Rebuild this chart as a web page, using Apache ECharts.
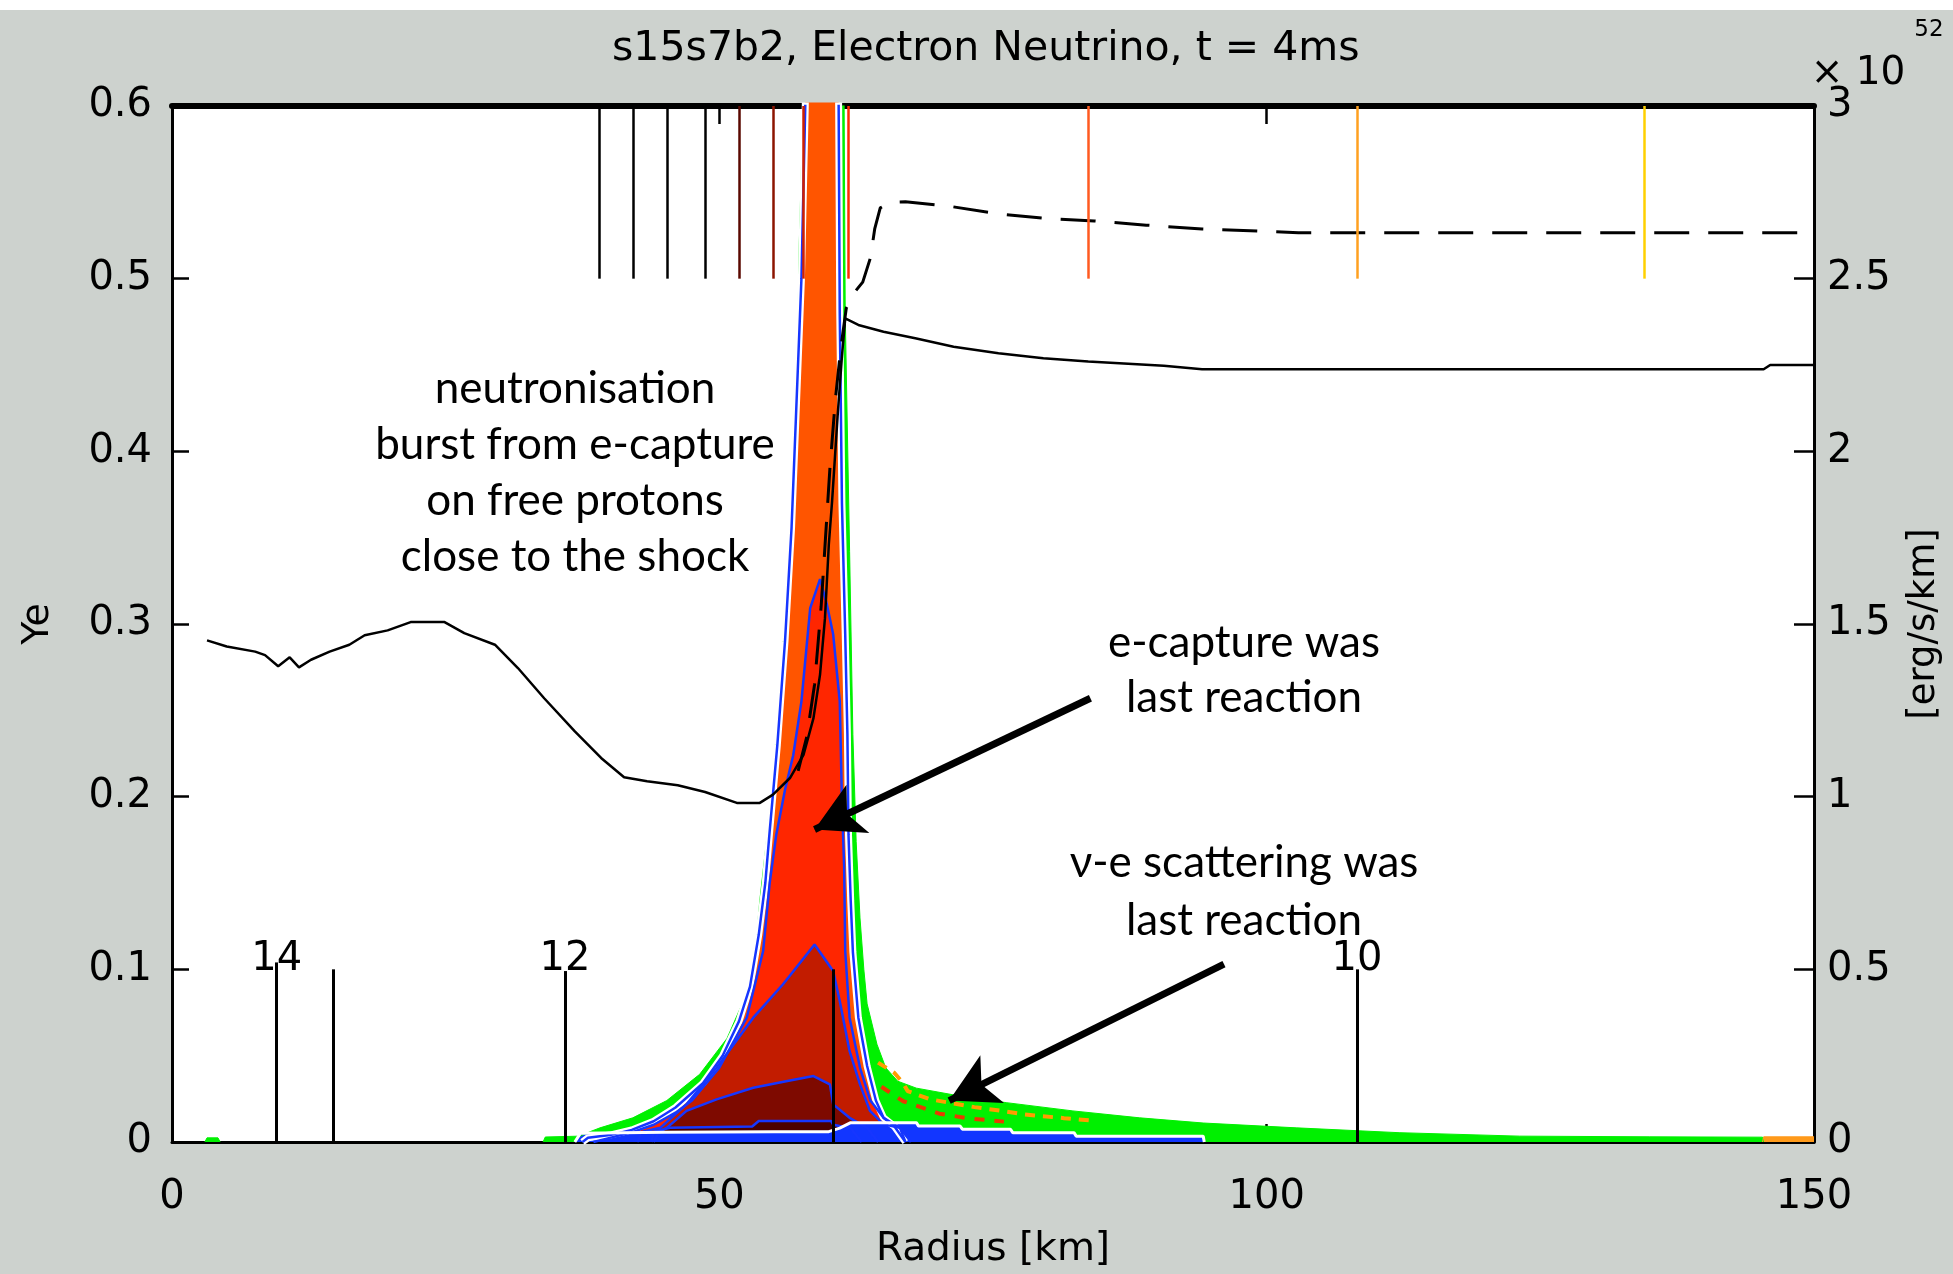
<!DOCTYPE html>
<html><head><meta charset="utf-8">
<script src="https://cdn.jsdelivr.net/npm/echarts@6/dist/echarts.min.js"></script>
<style>html,body{margin:0;padding:0;background:#CDD2CE;}#c{width:1953px;height:1274px;}</style>
</head><body><div id="c"></div>
<script>
// ---------------- DATA ----------------
// Ye (left axis), solid
const yeSolidKm  = [3.2,5.0,7.6,8.5,9.7,10.75,11.6,12.7,14.4,16.2,17.6,19.7,21.8,24.9,26.7,29.5,31.6,34.0,36.8,39.2,41.3,43.4,46.2,48.7,51.6,53.7,54.9,56.45,57.7,58.6,59.2,59.65,60.0,60.3,60.8,61.2,61.5,62.7,65.0,67.9,71.4,75.5,79.6,83.7,90.6,94.1,117,145.4,146.0,150];
const yeSolidVal = [0.2905,0.287,0.284,0.282,0.2755,0.2807,0.2749,0.2793,0.284,0.288,0.2935,0.2963,0.3011,0.3011,0.2947,0.288,0.2745,0.257,0.2378,0.2224,0.2112,0.2089,0.2066,0.2027,0.1964,0.1964,0.2012,0.2108,0.2244,0.2455,0.2707,0.3034,0.3459,0.371,0.42,0.455,0.477,0.4732,0.4693,0.4655,0.4606,0.4568,0.4539,0.452,0.4495,0.4475,0.4475,0.4475,0.450,0.450];
// second (dashed) curve, left axis
const yeDashKm  = [57.2,58.0,58.7,59.3,59.7,60.1,60.6,61.1,61.6,62.4,63.1,63.8,64.2,64.7,65.6,67.0,70.85,75.5,79.6,84.25,89,94.1,102.9,150];
const yeDashVal = [0.215,0.235,0.265,0.31,0.35,0.39,0.43,0.46,0.483,0.4925,0.498,0.512,0.529,0.541,0.5442,0.5445,0.5421,0.5375,0.535,0.5334,0.531,0.5288,0.5266,0.5266];

// luminosity layers (right axis, 1e52 erg/s/km)
const greenKm  = [3.0,3.2,4.2,4.4,4.5,33.9,34.1,37.3,38.2,39.1,42.1,45.2,48.2,50.7,52.5,53.3,53.7,54.3,55.2,55.85,56.75,57.1,57.3,57.75,58.2,59.2,60.6,61.4,61.5,61.9,62.2,62.5,62.85,63.2,63.5,64.4,65.2,66.3,68.0,72.0,76.2,82.3,88.4,94.2,102.7,112.1,123.1,135,145.3,145.4];
const greenVal = [0,0.012,0.012,0,null,0,0.0145,0.017,0.03,0.041,0.07,0.12,0.196,0.30,0.43,0.56,0.70,0.87,1.18,1.47,1.78,2.2,2.6,3.1,4.0,5.0,4.0,3.0,2.4,1.71,1.18,0.87,0.649,0.5,0.40,0.283,0.215,0.176,0.156,0.133,0.114,0.09,0.07,0.055,0.041,0.027,0.017,0.015,0.014,0];
const endOrangeKm  = [145.3,145.4,150];
const endOrangeVal = [0,0.015,0.015];
const orangeKm  = [37.5,38.0,40,42,44,46,48.5,50.3,51.8,52.8,53.6,54.2,54.6,55.3,56.0,56.6,57.0,57.5,57.85,58.3,59.3,60.4,60.9,61.0,61.2,61.5,61.7,61.8,62.0,62.2,62.7,63.5,64.3,65.0,66.0,67.0];
const orangeVal = [0,0.012,0.02,0.035,0.06,0.1,0.17,0.25,0.35,0.45,0.6,0.75,0.9,1.15,1.45,1.78,2.1,2.5,3.0,4.5,5.5,4.5,3.0,2.4,1.85,1.47,1.18,0.89,0.7,0.55,0.36,0.22,0.12,0.07,0.045,0];
const redKm  = [38.5,40,42,44,46,47.5,50,52.5,54.0,54.6,55.2,56.0,56.75,57.5,58.3,59.2,59.8,60.4,61.0,61.2,61.4,61.5,61.9,62.85,63.8,65.0,66.5,67.5];
const redVal = [0,0.012,0.028,0.05,0.085,0.12,0.215,0.36,0.553,0.75,0.89,1.02,1.12,1.276,1.546,1.63,1.56,1.47,1.276,0.986,0.8,0.553,0.36,0.215,0.12,0.07,0.041,0];
const darkRedKm  = [42.5,43.0,44.6,47.0,49.75,53.1,55.8,58.7,60.4,61.0,61.9,62.85,63.76,65,66.5,67.0];
const darkRedVal = [0,0.03,0.041,0.109,0.215,0.36,0.456,0.572,0.495,0.408,0.263,0.167,0.09,0.051,0.041,0];
const darkerKm  = [44.0,44.5,45.2,47,49.75,53.1,56.1,58.6,60.1,60.4,61.9,63.5,64.5];
const darkerVal = [0,0.03,0.041,0.09,0.1235,0.157,0.176,0.191,0.167,0.109,0.07,0.041,0];
const darkestKm  = [43.8,44.0,45.5,53.0,53.6,60.2,60.4,62,63];
const darkestVal = [0,0.03,0.041,0.045,0.061,0.061,0.05,0.04,0];
const blueKm  = [36.8,37.3,45,55,60,61,62,68,68.2,72,72.2,76.6,76.8,82.4,82.6,94.2,94.3];
const blueVal = [0,0.025,0.028,0.03,0.03,0.04,0.056,0.056,0.046,0.046,0.037,0.037,0.027,0.027,0.017,0.017,0];
// checkered tail traces
const tailOrangeKm  = [64.5,66.0,66.8,67.2,69.2,73.3,75.4,77.8,81.5,84];
const tailOrangeVal = [0.23,0.2,0.17,0.1475,0.124,0.101,0.092,0.08,0.069,0.062];
const tailRedKm  = [64.8,66.8,70.1,72.9,76];
const tailRedVal = [0.16,0.118,0.082,0.068,0.059];

// marker lines
const topMarkerKm = [39.03,42.14,45.24,48.69,51.83,54.94,57.7,61.8,83.67,108.25,134.5];
const topMarkerLow = 0.5, topMarkerHigh = 0.6;
const bottomMarkerKm  = [9.56,14.74,35.9,60.4,108.25];
const bottomMarkerTop = [0.104,0.1,0.099,0.1,0.1];
const bottomMarkerLabel = ['14','','12','','10'];
const bottomMarkerLabelYe = 0.1055;
// annotation arrows (tail -> tip, in km / Ye)
const arrowTail = [[83.9,0.257],[96.1,0.103]];
const arrowTip  = [[58.7,0.181],[71.0,0.024]];

// tick labels / texts
const titleText = 's15s7b2, Electron Neutrino, t = 4ms';
const xName = 'Radius [km]', yLeftName = 'Ye', yRightName = '[erg/s/km]';
const noteLeft = ['neutronisation','burst from e-capture','on free protons','close to the shock'];
const noteCapture = ['e-capture was','last reaction'];
const noteScatter = ['\u03bd-e scattering was','last reaction'];

// ---------------- STYLE ----------------
const FONT = 'DejaVu Sans';
const NOTE_FONT = 'Lato';
const topMarkerColors = ['#000','#000','#000','#000','#5A0800','#8C1400','#D02000','#FF2A00','#FF5A20','#FFA020','#FFD000'];
const BLUE = '#1636FF';

const pairs = (xs, ys) => xs.map((x,i) => [x, ys[i] === null ? '-' : ys[i]]);
const layer = (name, km, val, fill, edge, edgeW) => ({
  name, type:'line', xAxisIndex:0, yAxisIndex:1, data:pairs(km,val), symbol:'none', silent:true,
  clip:true, lineStyle:{color:edge, width:edgeW}, areaStyle:{color:fill, opacity:1}
});
const lineOnly = (name, km, val, color, width, type, yIdx) => ({
  name, type:'line', xAxisIndex:0, yAxisIndex:yIdx, data:pairs(km,val), symbol:'none', silent:true,
  clip:true, lineStyle:{color, width, type}
});

const markerLines = [];
topMarkerKm.forEach((k,i) => markerLines.push([{coord:[k,topMarkerLow], lineStyle:{color:topMarkerColors[i], width:2.5, type:'solid'}},{coord:[k,topMarkerHigh]}]));
bottomMarkerKm.forEach((k,i) => markerLines.push([{coord:[k,0], lineStyle:{color:'#000', width:3, type:'solid'}},{coord:[k,bottomMarkerTop[i]]}]));
const markerLabels = [];
bottomMarkerKm.forEach((k,i) => { if (bottomMarkerLabel[i]) markerLabels.push({name:bottomMarkerLabel[i], coord:[k,bottomMarkerLabelYe]}); });

const series = [
  layer('other', greenKm, greenVal, '#00F000', '#00F000', 1),
  layer('end', endOrangeKm, endOrangeVal, '#FF9A1A', '#FF9A1A', 1),
  layer('orange', orangeKm, orangeVal, '#FF5500', '#FFFFFF', 7),
  lineOnly('orangeEdge', orangeKm, orangeVal, BLUE, 2.5, 'solid', 1),
  layer('red', redKm, redVal, '#FF2600', BLUE, 2.5),
  layer('darkred', darkRedKm, darkRedVal, '#C21C00', BLUE, 2.5),
  layer('darker', darkerKm, darkerVal, '#7E0A00', BLUE, 2.5),
  layer('darkest', darkestKm, darkestVal, '#4C0000', BLUE, 2.5),
  layer('blue', blueKm, blueVal, '#1236FF', '#FFFFFF', 3),
  lineOnly('tailOrange', tailOrangeKm, tailOrangeVal, '#FF9C00', 4, [10,8], 1),
  lineOnly('tailRed', tailRedKm, tailRedVal, '#E83A00', 4, [10,10], 1),
  lineOnly('YeDash', yeDashKm, yeDashVal, '#000', 3, [35,19], 0),
  Object.assign(lineOnly('Ye', yeSolidKm, yeSolidVal, '#000', 2.5, 'solid', 0), {
    z: 5,
    markLine: {silent:true, symbol:['none','none'], animation:false, label:{show:false}, data: markerLines},
    markPoint: {silent:true, symbol:'circle', symbolSize:2, itemStyle:{color:'rgba(0,0,0,0)'}, animation:false,
      label:{show:true, position:'inside', formatter:p=>p.name, fontFamily:FONT, fontSize:40, color:'#000', offset:[0,0]},
      data: markerLabels}
  }),
  {name:'arrows', type:'line', xAxisIndex:0, yAxisIndex:0, data:[], z:6,
    markLine:{silent:true, animation:false, symbol:['none','arrow'], symbolSize:[40,48], label:{show:false},
      lineStyle:{color:'#000', width:7, type:'solid'},
      data: arrowTail.map((t,i)=>[{coord:t},{coord:arrowTip[i]}])}}
];

const textEl = (txt, x, y, font, size) => ({type:'text', x, y, z:100, silent:true,
  style:{text:txt, fontFamily:font, fontSize:size, fill:'#000', align:'center', verticalAlign:'middle', textAlign:'center', textVerticalAlign:'middle'}});
const graphics = [
  {type:'rect', shape:{x:0,y:0,width:1953,height:10}, style:{fill:'#fff'}, silent:true, z:100},
  textEl('\u00d7 10', 1858, 74, FONT, 39),
  textEl('52', 1929, 30, FONT, 23)
];
noteLeft.forEach((t,i)=>graphics.push(textEl(t, 575, 389 + i*56, NOTE_FONT, 44)));
noteCapture.forEach((t,i)=>graphics.push(textEl(t, 1244, 643 + i*55, NOTE_FONT, 44)));
noteScatter.forEach((t,i)=>graphics.push(textEl(t, 1244, 863 + i*58, NOTE_FONT, 44)));

const axisFont = {fontFamily:FONT, fontSize:40, color:'#000'};
const option = {
  backgroundColor:'#CDD2CE',
  animation:false,
  title:{text:titleText, left:612, top:29, padding:0, textStyle:{fontFamily:FONT, fontSize:41, fontWeight:'normal', color:'#000'}},
  grid:{left:172, top:106, width:1642, height:1036, show:true, backgroundColor:'#fff', borderWidth:0, containLabel:false, outerBoundsMode:'none'},
  xAxis:[
    {type:'value', min:0, max:150, interval:50, position:'bottom',
     axisLine:{show:true, onZero:false, lineStyle:{color:'#000', width:3}},
     axisTick:{show:true, inside:true, length:18, lineStyle:{color:'#000', width:2.5}},
     axisLabel:Object.assign({margin:36}, axisFont), splitLine:{show:false},
     name:xName, nameLocation:'middle', nameGap:88, nameTextStyle:{fontFamily:FONT, fontSize:39, color:'#000'}},
    {type:'value', min:0, max:150, interval:50, position:'top',
     axisLine:{show:true, onZero:false, lineStyle:{color:'#000', width:6}},
     axisTick:{show:true, inside:true, length:18, lineStyle:{color:'#000', width:2.5}},
     axisLabel:{show:false}, splitLine:{show:false}}
  ],
  yAxis:[
    {type:'value', min:0, max:0.6, interval:0.1, position:'left',
     axisLine:{show:true, onZero:false, lineStyle:{color:'#000', width:3}},
     axisTick:{show:true, inside:true, length:17, lineStyle:{color:'#000', width:2.5}},
     axisLabel:Object.assign({margin:20}, axisFont), splitLine:{show:false},
     name:yLeftName, nameLocation:'middle', nameGap:115, nameTextStyle:{fontFamily:FONT, fontSize:38, color:'#000'}},
    {type:'value', min:0, max:3, interval:0.5, position:'right',
     axisLine:{show:true, onZero:false, lineStyle:{color:'#000', width:3}},
     axisTick:{show:true, inside:true, length:20, lineStyle:{color:'#000', width:2.5}},
     axisLabel:Object.assign({margin:13}, axisFont), splitLine:{show:false},
     name:yRightName, nameLocation:'middle', nameGap:92, nameTextStyle:{fontFamily:FONT, fontSize:37, color:'#000'}}
  ],
  series,
  graphic: graphics
};
const chart = echarts.init(document.getElementById('c'), null, {renderer:'canvas', width:1953, height:1274});
chart.setOption(option);
</script>
</body></html>
